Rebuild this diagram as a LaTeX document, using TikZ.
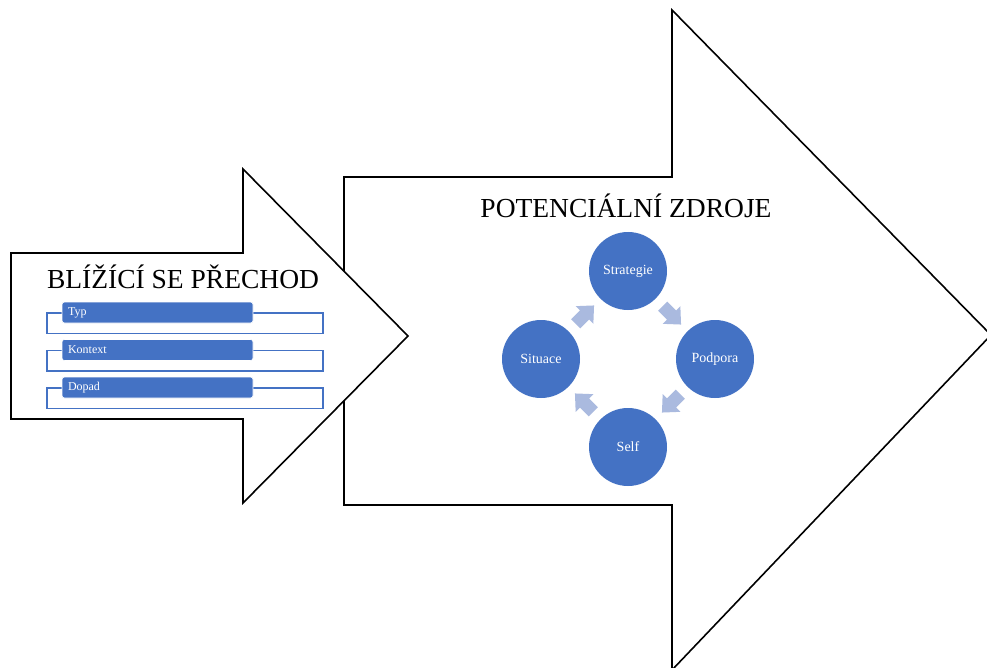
\documentclass[tikz,border=0pt]{standalone}
\usepackage{fontspec}
\setmainfont{Liberation Serif}
\usetikzlibrary{calc}
\definecolor{accent}{RGB}{68,114,196}
\definecolor{accentlight}{RGB}{170,186,223}
\begin{document}
\begin{tikzpicture}[x=1pt,y=-1pt,
  outlinearrow/.style={draw=black, line width=1.6pt, fill=white, line join=miter},
  heading/.style={inner sep=0pt, anchor=base, font=\fontsize{27.5}{30}\selectfont},
  bracket/.style={draw=accent, line width=1.5pt, minimum width=276pt, minimum height=20.5pt, inner sep=0pt},
  tab/.style={fill=accent, draw=white, line width=0.6pt, rounded corners=2.5pt, text=white,
    text width=179pt, align=left, inner xsep=6pt, inner ysep=0pt, minimum height=21pt,
    font=\fontsize{12}{13}\selectfont},
  circ/.style={circle, fill=accent, minimum size=78pt, inner sep=0pt, text=white,
    font=\fontsize{14}{16}\selectfont},
  cycarrow/.pic={\fill[accentlight] (-12.5,-6.5) -- (0,-6.5) -- (0,-12.5) -- (13.5,0)
    -- (0,12.5) -- (0,6.5) -- (-12.5,6.5) -- cycle;}
]
\useasboundingbox (0,0) rectangle (987,668);

% large block arrow in the background
\draw[outlinearrow] (344,177) -- (672,177) -- (672,10) -- (991,335) -- (672,670)
  -- (672,505) -- (344,505) -- cycle;

% smaller block arrow in front of it
\draw[outlinearrow] (11,253) -- (243,253) -- (243,169) -- (408,336) -- (243,503)
  -- (243,419) -- (11,419) -- cycle;

% headings
\node[heading] (left title) at (183,288) {BLÍŽÍCÍ SE PŘECHOD};
\node[heading] (right title) at (626,218) {POTENCIÁLNÍ ZDROJE};

% list of the coming transition
\node[bracket] (box typ) at (185,323.25) {};
\node[tab] (typ) at (157.5,312.5) {Typ};
\node[bracket] (box kontext) at (185,360.75) {};
\node[tab] (kontext) at (157.5,350) {Kontext};
\node[bracket] (box dopad) at (185,398.25) {};
\node[tab] (dopad) at (157.5,387.5) {Dopad};

% cycle of resources
\node[circ] (strategie) at (628,271) {Strategie};
\node[circ] (podpora) at (715,359) {Podpora};
\node[circ] (self) at (628,447) {Self};
\node[circ] (situace) at (541,359) {Situace};

\pic[rotate=-45] at ($(strategie)!0.5!(podpora)$) {cycarrow};
\pic[rotate=-135] at ($(podpora)!0.5!(self)$) {cycarrow};
\pic[rotate=135] at ($(self)!0.5!(situace)$) {cycarrow};
\pic[rotate=45] at ($(situace)!0.5!(strategie)$) {cycarrow};
\end{tikzpicture}
\end{document}
